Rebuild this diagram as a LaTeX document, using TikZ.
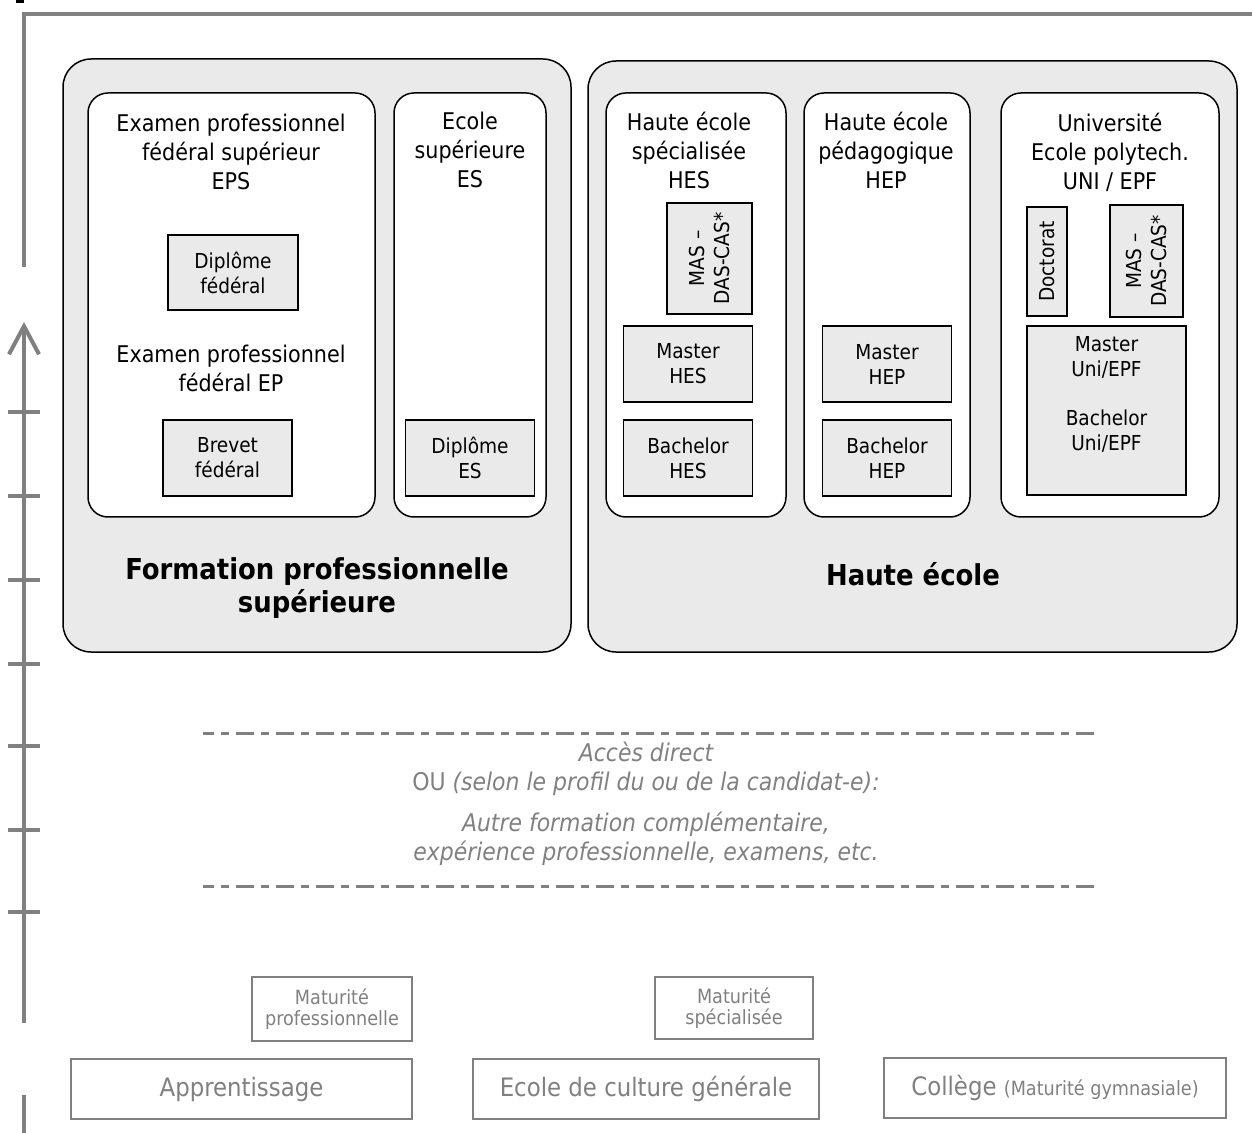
\documentclass[tikz,border=0pt]{standalone}
\usepackage{fontspec}
\IfFontExistsTF{DejaVu Sans Condensed}
  {\setmainfont{DejaVu Sans Condensed}[BoldFont={DejaVu Sans Condensed Bold},ItalicFont={DejaVu Sans Condensed Oblique}]}
  {\setmainfont{DejaVu Sans}}
\usetikzlibrary{positioning,arrows.meta}

\definecolor{panelgray}{HTML}{EAEAEA}
\definecolor{linegray}{HTML}{808080}

\newcommand\colheadfont{\fontsize{11.5}{14.5}\selectfont}
\newcommand\degreefont{\fontsize{10.3}{12.5}\selectfont}
\newcommand\panelfont{\fontsize{14.4}{16.5}\selectfont\bfseries}
\newcommand\notefont{\fontsize{12.2}{14.5}\selectfont\itshape}
\newcommand\schoolfont{\fontsize{12.7}{15}\selectfont}
\newcommand\maturfont{\fontsize{9.8}{10.5}\selectfont}

\tikzset{
  axis/.style={draw=linegray, line width=2pt},
  panel/.style={draw=black, fill=panelgray, line width=0.75pt, rounded corners=14pt},
  column/.style={draw=black, fill=white, line width=0.75pt, rounded corners=10pt},
  colhead/.style={align=center, font=\colheadfont, inner sep=0pt},
  degree/.style={draw=black, fill=panelgray, line width=0.75pt, align=center, inner sep=0pt, font=\degreefont},
  smalldeg/.style={degree, minimum width=64.5pt, minimum height=38pt},
  accessline/.style={draw=linegray, line width=1.5pt, dash pattern=on 9pt off 3.5pt on 4pt off 3.5pt, dash phase=3.5pt},
  school/.style={draw=linegray, line width=1pt, text=linegray, inner sep=0pt, font=\schoolfont},
  matur/.style={school, align=center, font=\maturfont}
}

\begin{document}
\begin{tikzpicture}[x=0.5pt, y=-0.5pt]
\useasboundingbox (0,0) rectangle (1252,1133);

% frame and time axis
\fill (16,0) rectangle (24,3);
\draw[axis] (24,267) -- (24,14) -- (1252,14);
\draw[axis, -{Straight Barb[length=14pt, width=15pt]}] (24,1023) -- (24,322);
\foreach \y in {412,496,580,664,746,830,912}
  \draw[axis] (8,\y) -- (40,\y);
\draw[axis] (24,1095) -- (24,1133);

% panels and columns
\draw[panel] (63,59) rectangle (571,652);
\draw[panel] (588,61) rectangle (1237,652);
\foreach \l/\r in {88/375, 394/546, 606/786, 804/970, 1001/1219}
  \draw[column] (\l,93) rectangle (\r,517);

% formation professionnelle superieure
\node[colhead] (eps) at (231,152) {Examen professionnel\\fédéral supérieur\\EPS};
\node[degree, minimum width=65pt, minimum height=37.5pt] (dipfed) at (233,272.5) {Diplôme\\fédéral};
\node[colhead] (ep) at (231,368) {Examen professionnel\\fédéral EP};
\node[smalldeg] (brevet) at (227.5,458) {Brevet\\fédéral};
\node[colhead] (es) at (470,150) {Ecole\\supérieure\\ES};
\node[smalldeg] (dipes) at (470,458) {Diplôme\\ES};

% haute ecole
\node[colhead] (hes) at (689,150) {Haute école\\spécialisée\\HES};
\node[degree, rotate=90, minimum width=55.5pt, minimum height=42.5pt] (mashes) at (709.5,258.5) {MAS –\\DAS-CAS*};
\node[smalldeg] (masterhes) at (688,364) {Master\\HES};
\node[smalldeg] (bachelorhes) at (688,458) {Bachelor\\HES};
\node[colhead] (hep) at (886,150) {Haute école\\pédagogique\\HEP};
\node[smalldeg] (masterhep) at (887,364) {Master\\HEP};
\node[smalldeg] (bachelorhep) at (887,458) {Bachelor\\HEP};
\node[colhead] (uni) at (1110,152) {Université\\Ecole polytech.\\UNI / EPF};
\node[degree, rotate=90, minimum width=54.5pt, minimum height=20pt] (doctorat) at (1047,261.5) {Doctorat};
\node[degree, rotate=90, minimum width=56pt, minimum height=36.5pt] (masuni) at (1146.5,261) {MAS –\\DAS-CAS*};
\node[degree, minimum width=79.5pt, minimum height=84.5pt] (unibox) at (1106.5,410.5) {};
\node[colhead, font=\degreefont, below=5.5pt of unibox.north] (unitext) {Master\\Uni/EPF\\[12pt]Bachelor\\Uni/EPF};

\node[font=\panelfont, align=center] (fps) at (317,588) {Formation professionnelle\\supérieure};
\node[font=\panelfont] (he) at (913,574) {Haute école};

% acces
\draw[accessline] (203,733) -- (1100,733);
\draw[accessline] (203,886) -- (1100,886);
\node[font=\notefont, text=linegray, align=center] (access) at (646,803.5)
  {Accès direct\\{\upshape OU} (selon le profil du ou de la candidat-e):\\[6pt]Autre formation complémentaire,\\expérience professionnelle, examens, etc.};

% secondaire II
\node[matur, minimum width=80pt, minimum height=32pt] (matpro) at (332,1009) {Maturité\\professionnelle};
\node[matur, minimum width=79pt, minimum height=31pt] (matspec) at (734,1008) {Maturité\\spécialisée};
\node[school, minimum width=170.5pt, minimum height=30pt] (appr) at (241.5,1089) {Apprentissage};
\node[school, minimum width=173pt, minimum height=30pt] (ecg) at (646,1089) {Ecole de culture générale};
\node[school, minimum width=171pt, minimum height=30pt] (college) at (1055,1088) {Collège {\maturfont (Maturité gymnasiale)}};
\end{tikzpicture}
\end{document}
